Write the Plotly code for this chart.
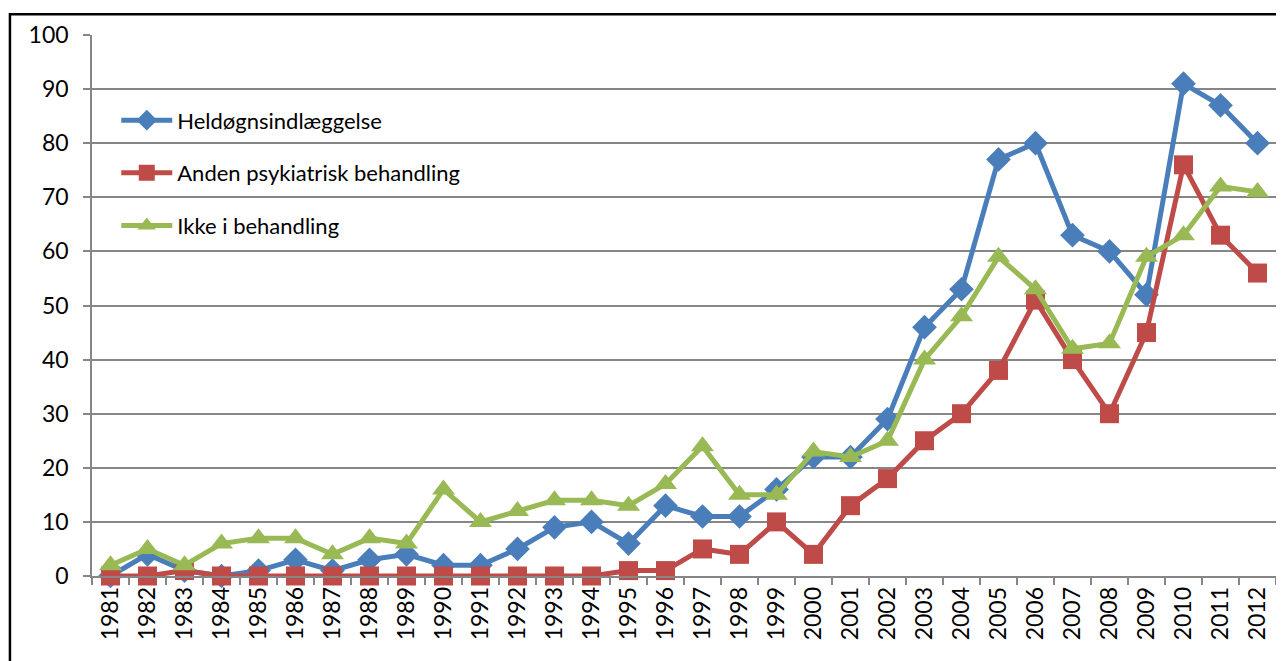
import plotly.graph_objects as go

years = [str(y) for y in range(1981, 2013)]
heldogn = [0, 4, 1, 0, 1, 3, 1, 3, 4, 2, 2, 5, 9, 10, 6, 13, 11, 11, 16, 22, 22, 29,
           46, 53, 77, 80, 63, 60, 52, 91, 87, 80]
anden = [0, 0, 1, 0, 0, 0, 0, 0, 0, 0, 0, 0, 0, 0, 1, 1, 5, 4, 10, 4, 13, 18,
         25, 30, 38, 51, 40, 30, 45, 76, 63, 56]
ikke = [2, 5, 2, 6, 7, 7, 4, 7, 6, 16, 10, 12, 14, 14, 13, 17, 24, 15, 15, 23, 22, 25,
        40, 48, 59, 53, 42, 43, 59, 63, 72, 71]
series_names = ["Heldøgnsindlæggelse", "Anden psykiatrisk behandling", "Ikke i behandling"]
colors = ["#4A7EBB", "#BE4B48", "#98B954"]
symbols = ["diamond", "square", "triangle-up"]
sizes = [19, 19, 20]

fig = go.Figure()
for i, (name, vals) in enumerate(zip(series_names, [heldogn, anden, ikke])):
    fig.add_trace(go.Scatter(
        x=years, y=vals, name=name, mode="lines+markers",
        line=dict(color=colors[i], width=5),
        marker=dict(symbol=symbols[i], size=sizes[i], color=colors[i]),
        legendgroup=f"g{i}", cliponaxis=False,
    ))

font_family = "Lato, Open Sans, Liberation Sans, Arial"
fig.update_layout(
    width=1284, height=661,
    margin=dict(l=84, r=16, t=27, b=93, pad=0),
    paper_bgcolor="white", plot_bgcolor="white",
    font=dict(family=font_family, color="black", size=22),
    showlegend=True,
    legend=dict(x=0.0205, y=0.881, xanchor="left", yanchor="top",
                bgcolor="rgba(0,0,0,0)", font=dict(size=22, family=font_family),
                tracegroupgap=21, traceorder="grouped", itemwidth=51),
    xaxis=dict(type="category", showgrid=False, showline=True, linecolor="#868686",
               linewidth=1.5, ticks="outside", tickson="boundaries", ticklen=7,
               tickcolor="#868686", tickwidth=1.5, tickangle=-90,
               tickfont=dict(size=23, family=font_family), range=[-0.5, 31.5]),
    yaxis=dict(range=[0, 100], dtick=10, showgrid=True, gridcolor="#868686",
               gridwidth=1.5, showline=True, linecolor="#868686", linewidth=1.5,
               ticks="outside", ticklen=7, tickcolor="#868686", tickwidth=1.5,
               tickfont=dict(size=23, family=font_family), ticklabelstandoff=10,
               zeroline=False),
    shapes=[dict(type="rect", xref="paper", yref="paper",
                 x0=-0.0693, x1=1.05, y0=-0.3, y1=1.0385,
                 line=dict(color="black", width=2.5), fillcolor="rgba(0,0,0,0)",
                 layer="below")],
)

fig.write_html("out.html")
